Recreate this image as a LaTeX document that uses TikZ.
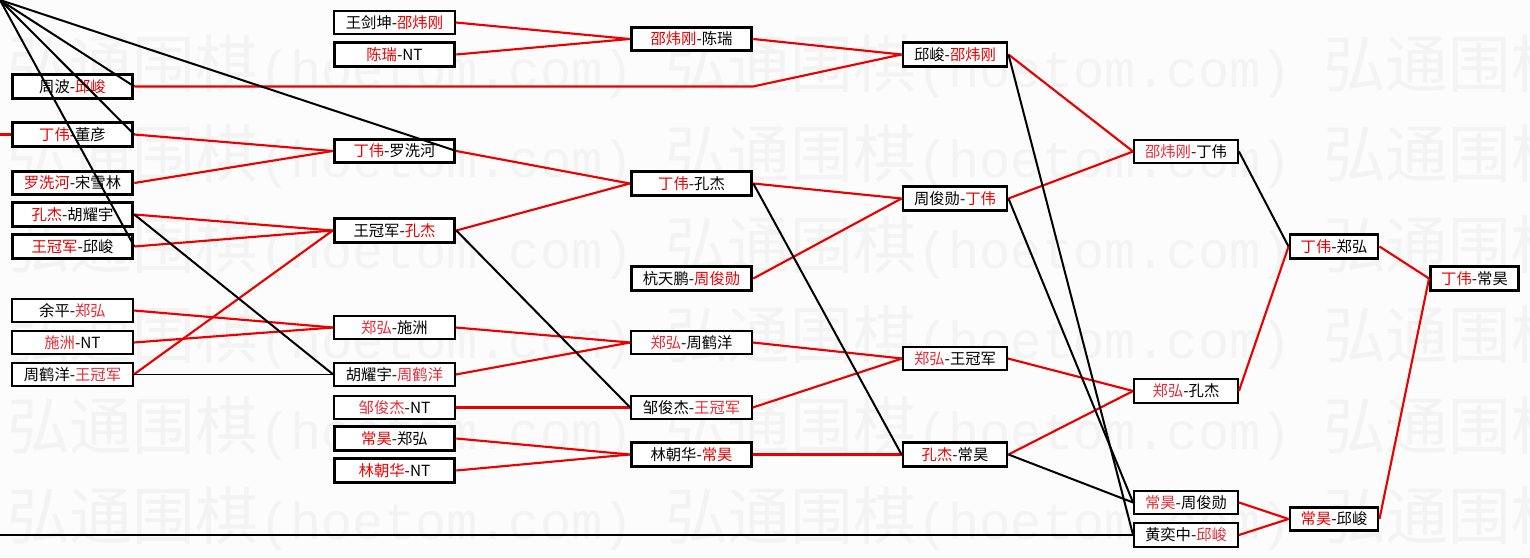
\documentclass[tikz,border=0pt]{standalone}
\usepackage{fontspec}
\setmainfont{Noto Sans CJK SC}
\newfontfamily\wmmono{Liberation Mono}
\definecolor{bg}{RGB}{252,252,252}
\definecolor{wm}{RGB}{243,243,243}
\definecolor{rd}{RGB}{235,0,0}
\definecolor{rdl}{RGB}{232,45,55}
\newcommand{\R}[1]{\textcolor{rd}{#1}}
\newcommand{\Rl}[1]{\textcolor{rdl}{#1}}
\begin{document}
\begin{tikzpicture}[x=0.75pt,y=-0.75pt,
  box/.style={draw=black, fill=white, inner sep=0pt, minimum height=17.5pt, font=\fontsize{11.5}{12}\selectfont, text=black},
  thk/.style={box, line width=2.2pt},
  thn/.style={box, line width=1.4pt},
  wA/.style={minimum width=90.5pt},
  wB/.style={minimum width=78pt},
  wC/.style={minimum width=66pt},
  win/.style={draw=rd, line width=1.6pt},
  lose/.style={draw=black, line width=1.5pt},
  losethin/.style={draw=black, line width=1.1pt},
  wmc/.style={text=wm, inner sep=0pt, anchor=base west, font=\fontsize{47}{47}\selectfont},
  wml/.style={text=wm, inner sep=0pt, anchor=base west, font=\wmmono\fontsize{39}{39}\selectfont},
]
\useasboundingbox (0,0) rectangle (1530,557);
\fill[bg] (0,0) rectangle (1530,557);
% watermark
\begin{scope}
\clip (0,0) rectangle (1530,557);
\foreach \yy in {63,153,244,334,425,515}{
  \foreach \xx in {7,665,1323}{
    \node[wmc] (wc-\yy-\xx) at (\xx,\yy+24) {弘通围棋};
    \node[wml] (wl-\yy-\xx) at (\xx+252,\yy+24) {(hoetom.com)};
  }
}
\end{scope}
% column 1
\node[thk,wA] (c1a) at (72.5,86.5) {周波-\R{邱峻}};
\node[thk,wA] (c1b) at (72.5,134.5) {\R{丁伟}-董彦};
\node[thk,wA] (c1c) at (72.5,183) {\R{罗洗河}-宋雪林};
\node[thk,wA] (c1d) at (72.5,214.5) {\R{孔杰}-胡耀宇};
\node[thk,wA] (c1e) at (72.5,246.5) {\R{王冠军}-邱峻};
\node[thn,wA] (c1f) at (72.5,310.5) {余平-\Rl{郑弘}};
\node[thn,wA] (c1g) at (72.5,342.5) {\Rl{施洲}-NT};
\node[thn,wA] (c1h) at (72.5,374.5) {周鹤洋-\Rl{王冠军}};
% column 2
\node[thn,wA] (c2a) at (394.5,22.5) {王剑坤-\R{邵炜刚}};
\node[thk,wA] (c2b) at (394.5,54.5) {\R{陈瑞}-NT};
\node[thk,wA] (c2c) at (394.5,151) {\R{丁伟}-罗洗河};
\node[thk,wA] (c2d) at (394.5,230.5) {王冠军-\R{孔杰}};
\node[thn,wA] (c2e) at (394.5,327.5) {\Rl{郑弘}-施洲};
\node[thn,wA] (c2f) at (394.5,374.5) {胡耀宇-\Rl{周鹤洋}};
\node[thn,wA] (c2g) at (394.5,407.5) {\Rl{邹俊杰}-NT};
\node[thk,wA] (c2h) at (394.5,438.5) {\R{常昊}-郑弘};
\node[thk,wA] (c2i) at (394.5,470.5) {\R{林朝华}-NT};
% column 3
\node[thk,wA] (c3a) at (691.5,39) {\R{邵炜刚}-陈瑞};
\node[thk,wA] (c3b) at (691.5,183.5) {\R{丁伟}-孔杰};
\node[thk,wA] (c3c) at (691.5,278.5) {杭天鹏-\R{周俊勋}};
\node[thn,wA] (c3d) at (691.5,342.5) {\Rl{郑弘}-周鹤洋};
\node[thn,wA] (c3e) at (691.5,407.5) {邹俊杰-\Rl{王冠军}};
\node[thk,wA] (c3f) at (691.5,454.5) {林朝华-\R{常昊}};
% column 4
\node[thk,wB] (c4a) at (955,54.5) {邱峻-\R{邵炜刚}};
\node[thk,wB] (c4b) at (955,198.5) {周俊勋-\R{丁伟}};
\node[thn,wB] (c4c) at (955,358.5) {\Rl{郑弘}-王冠军};
\node[thk,wB] (c4d) at (955,454.5) {\R{孔杰}-常昊};
% column 5
\node[thn,wB] (c5a) at (1186,151.5) {\Rl{邵炜刚}-丁伟};
\node[thn,wB] (c5b) at (1186,391) {\Rl{郑弘}-孔杰};
\node[thn,wB] (c5c) at (1186,502.5) {\Rl{常昊}-周俊勋};
\node[thn,wB] (c5d) at (1186,535) {黄奕中-\Rl{邱峻}};
% column 6 and 7
\node[thk,wC] (c6a) at (1334,246.5) {\R{丁伟}-郑弘};
\node[thk,wC] (c6b) at (1334,519) {\R{常昊}-邱峻};
\node[thk,wC] (c7) at (1474.5,278.5) {\R{丁伟}-常昊};
% free ends
\coordinate (corner) at (0,0);
\coordinate (bend) at (753,86.5);
\coordinate (stub) at (0,134.5);
\coordinate (bot) at (0,535);
% winner (red) connectors
\draw[win] (stub) -- (c1b.west);
\draw[win] (c2a.east) -- (c3a.west);
\draw[win] (c2b.east) -- (c3a.west);
\draw[win] (c3a.east) -- (c4a.west);
\draw[win] (c1a.east) -- (bend) -- (c4a.west);
\draw[win] (c1b.east) -- (c2c.west);
\draw[win] (c1c.east) -- (c2c.west);
\draw[win] (c2c.east) -- (c3b.west);
\draw[win] (c1d.east) -- (c2d.west);
\draw[win] (c1e.east) -- (c2d.west);
\draw[win] (c1h.east) -- (c2d.west);
\draw[win] (c2d.east) -- (c3b.west);
\draw[win] (c1f.east) -- (c2e.west);
\draw[win] (c1g.east) -- (c2e.west);
\draw[win] (c2e.east) -- (c3d.west);
\draw[win] (c2f.east) -- (c3d.west);
\draw[win] (c2g.east) -- (c3e.west);
\draw[win] (c2h.east) -- (c3f.west);
\draw[win] (c2i.east) -- (c3f.west);
\draw[win] (c3b.east) -- (c4b.west);
\draw[win] (c3c.east) -- (c4b.west);
\draw[win] (c3d.east) -- (c4c.west);
\draw[win] (c3e.east) -- (c4c.west);
\draw[win] (c3f.east) -- (c4d.west);
\draw[win] (c4a.east) -- (c5a.west);
\draw[win] (c4b.east) -- (c5a.west);
\draw[win] (c4c.east) -- (c5b.west);
\draw[win] (c4d.east) -- (c5b.west);
\draw[win] (c5b.east) -- (c6a.west);
\draw[win] (c5c.east) -- (c6b.west);
\draw[win] (c5d.east) -- (c6b.west);
\draw[win] (c6a.east) -- (c7.west);
\draw[win] (c6b.east) -- (c7.west);
% loser (black) connectors
\draw[lose] (corner) -- (c1a.east);
\draw[lose] (corner) -- (c1b.east);
\draw[lose] (corner) -- (c1e.east);
\draw[lose] (corner) -- (c2c.east);
\draw[lose] (c1d.east) -- (c2f.west);
\draw[losethin] (c1h.east) -- (c2f.west);
\draw[lose] (c2d.east) -- (c3e.west);
\draw[lose] (c3b.east) -- (c4d.west);
\draw[lose] (c4a.east) -- (c5d.west);
\draw[lose] (c4b.east) -- (c5c.west);
\draw[lose] (c4d.east) -- (c5c.west);
\draw[lose] (c5a.east) -- (c6a.west);
\draw[lose] (bot) -- (c5d.west);
\end{tikzpicture}
\end{document}
